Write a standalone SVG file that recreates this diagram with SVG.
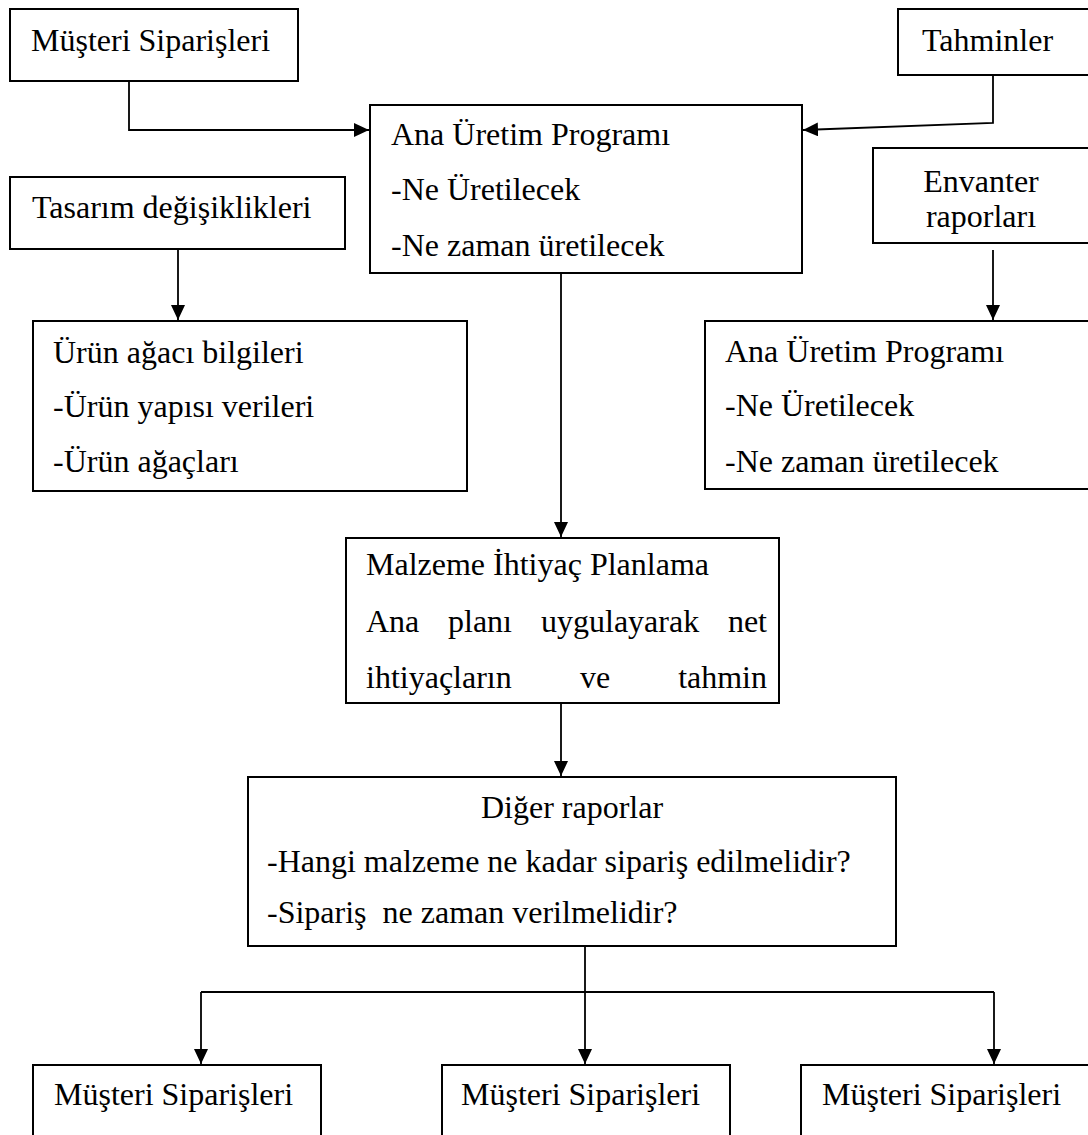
<svg xmlns="http://www.w3.org/2000/svg" width="1088" height="1135" viewBox="0 0 1088 1135">
  <defs>
    <marker id="arrow" markerUnits="userSpaceOnUse" markerWidth="15" markerHeight="14" refX="15" refY="7" orient="auto">
      <path d="M0,0 L15,7 L0,14 Z" fill="#000"/>
    </marker>
    <style>
      .box { fill: #fff; stroke: #000; stroke-width: 2; }
      .t { font-family: "Liberation Serif", "Times New Roman", serif; font-size: 32px; fill: #000; }
      .c { text-anchor: middle; }
      .e { text-anchor: end; }
      .link { fill: none; stroke: #000; stroke-width: 1.8; }
      .arr { marker-end: url(#arrow); }
    </style>
  </defs>

  <rect width="1088" height="1135" fill="#fff"/>

  <!-- connectors -->
  <g id="connectors">
    <polyline class="link arr" points="129,81 129,130 369,130"/>
    <polyline class="link arr" points="993,75 993,123 803,130"/>
    <polyline class="link arr" points="178,249 178,320"/>
    <polyline class="link arr" points="993,250 993,320"/>
    <polyline class="link arr" points="561,273 561,537"/>
    <polyline class="link arr" points="561,703 561,776"/>
    <polyline class="link" points="201,992 994,992"/>
    <polyline class="link arr" points="585,944 585,1064"/>
    <polyline class="link arr" points="201,992 201,1064"/>
    <polyline class="link arr" points="994,992 994,1064"/>
  </g>

  <!-- input: customer orders -->
  <g id="musteri-siparisleri-top">
    <rect class="box" x="10" y="9" width="288" height="72"/>
    <text class="t" x="31" y="51">Müşteri Siparişleri</text>
  </g>

  <!-- input: forecasts -->
  <g id="tahminler">
    <rect class="box" x="898" y="9" width="195" height="66"/>
    <text class="t" x="922" y="51">Tahminler</text>
  </g>

  <!-- master production schedule -->
  <g id="ana-uretim-programi">
    <rect class="box" x="370" y="105" width="432" height="168"/>
    <text class="t" x="391" y="145">Ana Üretim Programı</text>
    <text class="t" x="391" y="200">-Ne Üretilecek</text>
    <text class="t" x="391" y="256">-Ne zaman üretilecek</text>
  </g>

  <!-- design changes -->
  <g id="tasarim-degisiklikleri">
    <rect class="box" x="10" y="177" width="335" height="72"/>
    <text class="t" x="32" y="218">Tasarım değişiklikleri</text>
  </g>

  <!-- inventory reports -->
  <g id="envanter-raporlari">
    <rect class="box" x="873" y="148" width="220" height="95"/>
    <text class="t c" x="981" y="192">Envanter</text>
    <text class="t c" x="981" y="227">raporları</text>
  </g>

  <!-- bill of materials -->
  <g id="urun-agaci-bilgileri">
    <rect class="box" x="33" y="321" width="434" height="170"/>
    <text class="t" x="53" y="363">Ürün ağacı bilgileri</text>
    <text class="t" x="53" y="417">-Ürün yapısı verileri</text>
    <text class="t" x="53" y="472">-Ürün ağaçları</text>
  </g>

  <!-- master production schedule (inventory side) -->
  <g id="ana-uretim-programi-2">
    <rect class="box" x="705" y="321" width="388" height="168"/>
    <text class="t" x="725" y="362">Ana Üretim Programı</text>
    <text class="t" x="725" y="416">-Ne Üretilecek</text>
    <text class="t" x="725" y="472">-Ne zaman üretilecek</text>
  </g>

  <!-- MRP -->
  <g id="malzeme-ihtiyac-planlama">
    <rect class="box" x="346" y="538" width="433" height="165"/>
    <text class="t" x="366" y="575">Malzeme İhtiyaç Planlama</text>
    <text class="t" y="632"><tspan x="366">Ana</tspan><tspan x="448">planı</tspan><tspan x="541">uygulayarak</tspan><tspan class="e" x="767" text-anchor="end">net</tspan></text>
    <text class="t" y="688"><tspan x="366">ihtiyaçların</tspan><tspan x="580">ve</tspan><tspan x="767" text-anchor="end">tahmin</tspan></text>
  </g>

  <!-- other reports -->
  <g id="diger-raporlar">
    <rect class="box" x="248" y="777" width="648" height="169"/>
    <text class="t c" x="572" y="818">Diğer raporlar</text>
    <text class="t" x="267" y="872">-Hangi malzeme ne kadar sipariş edilmelidir?</text>
    <text class="t" x="267" y="923" xml:space="preserve">-Sipariş  ne zaman verilmelidir?</text>
  </g>

  <!-- outputs -->
  <g id="musteri-siparisleri-1">
    <rect class="box" x="33" y="1065" width="288" height="90"/>
    <text class="t" x="54" y="1105">Müşteri Siparişleri</text>
  </g>
  <g id="musteri-siparisleri-2">
    <rect class="box" x="442" y="1065" width="288" height="90"/>
    <text class="t" x="461" y="1105">Müşteri Siparişleri</text>
  </g>
  <g id="musteri-siparisleri-3">
    <rect class="box" x="801" y="1065" width="300" height="90"/>
    <text class="t" x="822" y="1105">Müşteri Siparişleri</text>
  </g>
</svg>
